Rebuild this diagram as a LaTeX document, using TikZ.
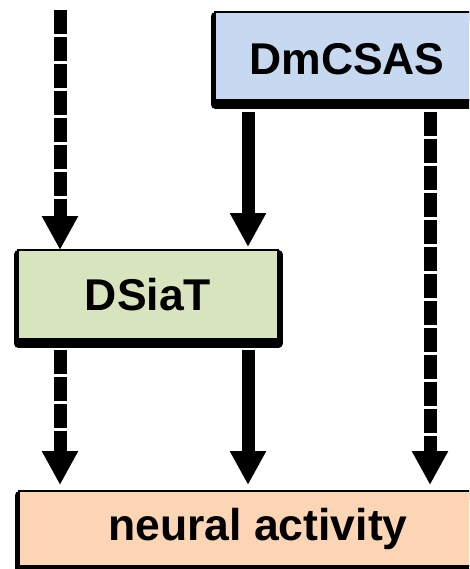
\documentclass[tikz,border=0pt]{standalone}
\usepackage{fontspec}
\setmainfont{Liberation Sans}
\usetikzlibrary{arrows.meta}
\definecolor{boxblue}{RGB}{198,217,241}
\definecolor{boxgreen}{RGB}{215,228,189}
\definecolor{boxpeach}{RGB}{252,213,181}
\tikzset{
  box/.style={rectangle, draw=black, line width=1.5pt, inner sep=0pt, outer sep=0pt,
    font=\bfseries\fontsize{44.5}{50}\selectfont,
    preaction={draw=black, line width=9pt, line join=round, transform canvas={yshift=-4.5pt}}},
  flow/.style={line width=13pt, -{Triangle[width=34pt,length=34pt]}},
  dashflow/.style={flow, dash pattern=on 24pt off 3pt}
}
\begin{document}
\begin{tikzpicture}[x=1pt, y=-1pt]
\useasboundingbox (0,0) rectangle (469,569);
\clip (0,0) rectangle (469,569);
% Cajas
\node[box, fill=boxblue, minimum width=264pt, minimum height=88pt, text height=38pt] (dmcsas) at (347,56) {DmCSAS};
\node[box, fill=boxgreen, minimum width=260pt, minimum height=89pt] (dsiat) at (148,294.5) {DSiaT};
\node[box, fill=boxpeach, minimum width=478pt, minimum height=75pt] (neural) at (258,528.5) {neural activity};
% Columnas de las flechas
\coordinate (colA) at (60,10);
\coordinate (colB) at (248,0);
\coordinate (colC) at (430,0);
% Flechas hacia DSiaT
\draw[dashflow] (colA) -- (colA |- dsiat.north);
\draw[flow, shorten <=12pt, shorten >=3pt] (dmcsas.south -| colB) -- (dsiat.north -| colB);
% Flechas hacia neural activity
\draw[dashflow, shorten <=12pt, shorten >=6pt] (dmcsas.south -| colC) -- (neural.north -| colC);
\draw[dashflow, shorten <=11pt, shorten >=6pt] (dsiat.south -| colA) -- (neural.north -| colA);
\draw[flow, shorten <=11pt, shorten >=6pt] (dsiat.south -| colB) -- (neural.north -| colB);
\end{tikzpicture}
\end{document}
